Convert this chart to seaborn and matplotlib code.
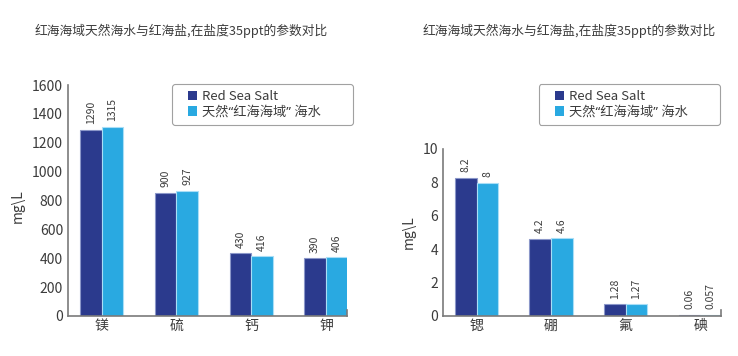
import pandas as pd
import matplotlib.pyplot as plt
import seaborn as sns
from matplotlib.legend_handler import HandlerPatch

#%% data
series_names = ['Red Sea Salt', '天然“红海海域” 海水']

left_cats = ['镁', '硫', '钙', '钾']
left_salt = [1288, 852, 434, 400]
left_sea = [1309, 866, 413, 406]
left_salt_lbl = ['1290', '900', '430', '390']
left_sea_lbl = ['1315', '927', '416', '406']

right_cats = ['锶', '硼', '氟', '碘']
right_salt = [8.28, 4.63, 0.70, 0.06]
right_sea = [7.98, 4.65, 0.70, 0.057]
right_salt_lbl = ['8.2', '4.2', '1.28', '0.06']
right_sea_lbl = ['8', '4.6', '1.27', '0.057']

left_yticks = [0, 200, 400, 600, 800, 1000, 1200, 1400, 1600]
right_yticks = [0, 2, 4, 6, 8, 10]

title_txt = '红海海域天然海水与红海盐,在盐度35ppt的参数对比'
ylabel_txt = 'mg\\L'

#%% style
sns.set_style('white')
plt.rcParams['font.family'] = ['Noto Sans CJK SC', 'DejaVu Sans']
text_col = '#3c3c3c'
spine_col = '#7a7a7a'
colors = ['#2b3a8d', '#29a9e1']
edges = ['#8b97c9', '#a9def6']


def to_long(cats, a, b):
    return pd.DataFrame({
        'cat': cats * 2,
        'series': [series_names[0]] * len(cats) + [series_names[1]] * len(cats),
        'value': list(a) + list(b),
    })


# square legend key pushed to the right side of the handle box
def right_square(legend, orig_handle, xdescent, ydescent, width, height, fontsize):
    return plt.Rectangle((-xdescent + width - height, -ydescent), height, height)


fig = plt.figure(figsize=(7.38, 3.56), dpi=100)
ax1 = fig.add_axes([0.0921, 0.1124, 0.3780, 0.6488])
ax2 = fig.add_axes([0.6003, 0.1124, 0.3767, 0.4691])

panels = [
    (ax1, left_cats, left_salt, left_sea, left_salt_lbl, left_sea_lbl, left_yticks, 42,
     (-0.154, 0.476), 0.0474, 0.233),
    (ax2, right_cats, right_salt, right_sea, right_salt_lbl, right_sea_lbl, right_yticks, 0.36,
     (-0.097, 0.503), 0.573, 0.730),
]

for ax, cats, a, b, la, lb, yt, end_tick, lab_xy, title_x, leg_x in panels:
    df = to_long(cats, a, b)
    sns.barplot(data=df, x='cat', y='value', hue='series', hue_order=series_names,
                palette=colors, saturation=1, width=0.58, ax=ax, legend=False,
                edgecolor='none', linewidth=0)
    for cont, ec in zip(ax.containers, edges):
        for p in cont:
            p.set_edgecolor(ec)
            p.set_linewidth(0.8)
    for cont, lbls in zip(ax.containers, [la, lb]):
        ax.bar_label(cont, labels=lbls, rotation=90, padding=4,
                     fontsize=7.5, color=text_col)
    ax.set_xlim(-0.45, 3.28)
    ax.set_ylim(yt[0], yt[-1])
    ax.set_yticks(yt)
    ax.set_xlabel('')
    ax.set_ylabel(ylabel_txt, fontsize=10, color=text_col)
    ax.yaxis.set_label_coords(*lab_xy)
    ax.tick_params(axis='y', direction='in', length=5, width=1.2, color=spine_col,
                   labelsize=10, labelcolor=text_col, pad=3.5)
    ax.tick_params(axis='x', length=0, labelsize=10, labelcolor=text_col, pad=2)
    ax.spines['top'].set_visible(False)
    for s in ['left', 'bottom', 'right']:
        ax.spines[s].set_color(spine_col)
        ax.spines[s].set_linewidth(1.2)
    ax.spines['right'].set_bounds(0, end_tick)

    fig.text(title_x, 1 - 31 / 356, title_txt, fontsize=9.2, color=text_col,
             ha='left', va='center')

    handles = [plt.Rectangle((0, 0), 1, 1, facecolor=c, edgecolor='none') for c in colors]
    leg = ax.legend(handles, series_names, loc='upper left',
                    bbox_to_anchor=(leg_x, 0.649, 0.245, 0.115),
                    bbox_transform=fig.transFigure, mode='expand', borderaxespad=0,
                    fontsize=9.5, frameon=True, fancybox=True,
                    handler_map={plt.Rectangle: HandlerPatch(patch_func=right_square)},
                    handlelength=1.45, handleheight=0.7, handletextpad=0.4,
                    labelspacing=0.2, borderpad=0.45, labelcolor=text_col)
    leg.get_frame().set_edgecolor('#8a8a8a')
    leg.get_frame().set_linewidth(0.8)
    leg.get_texts()[1].set_family(['Noto Sans', 'Noto Sans CJK SC'])

fig.savefig('out.png', dpi=100)
